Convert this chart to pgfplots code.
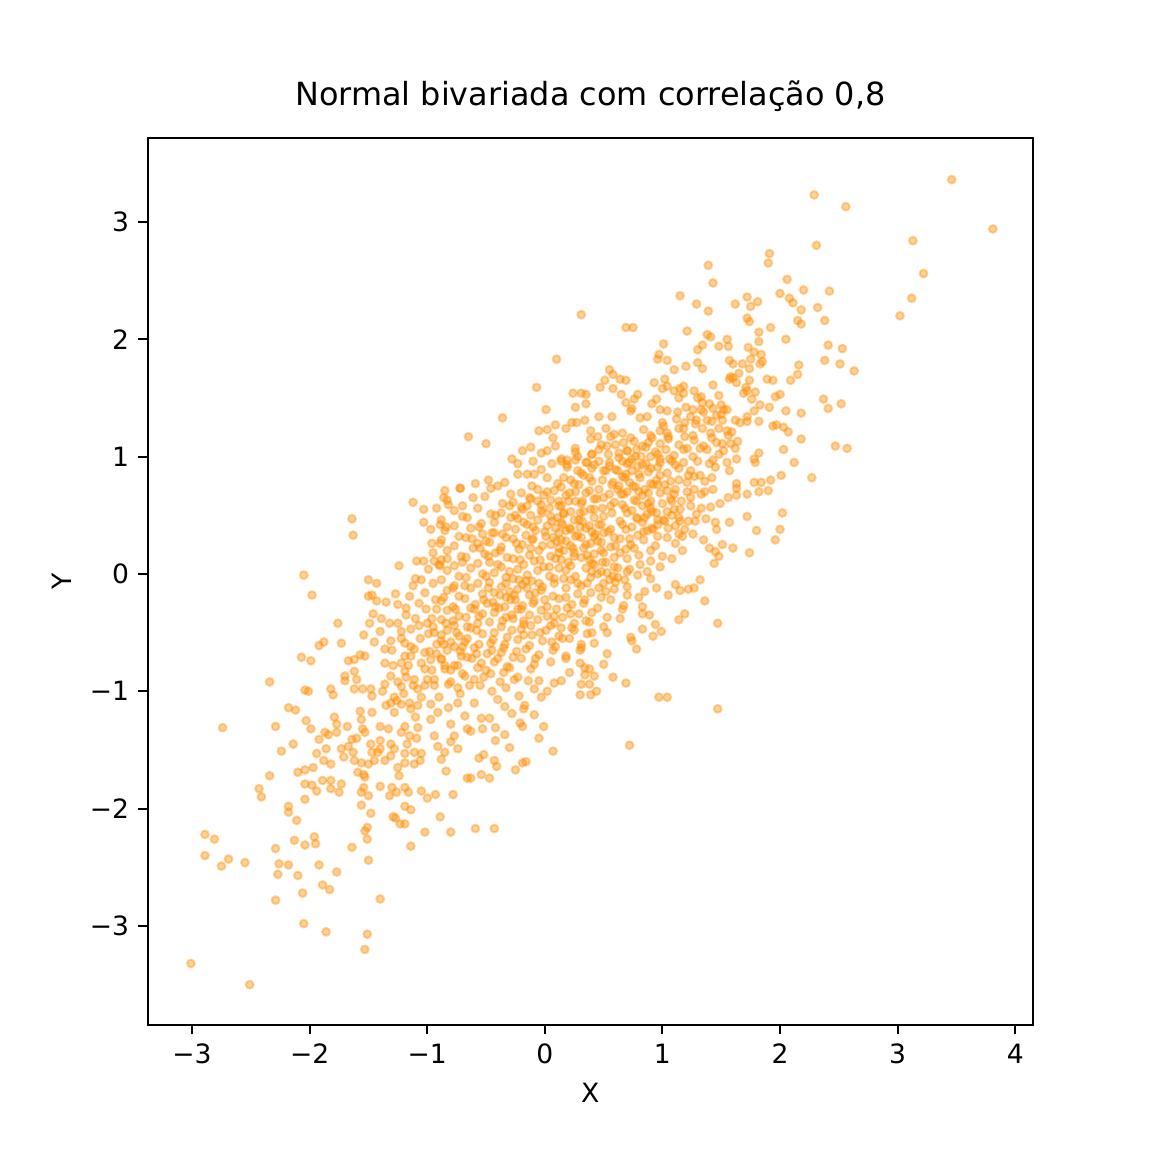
\documentclass[border=0pt]{standalone}
\usepackage{fontspec}
\setmainfont{DejaVu Sans}
\usepackage{pgfplots}
\usepackage{pgfplotstable}
\pgfplotsset{compat=1.18}
\definecolor{dorange}{RGB}{255,140,0}
\pgfplotstableread{
x y
3.46 3.36
2.29 3.23
2.56 3.13
3.81 2.94
3.13 2.84
2.31 2.80
1.91 2.73
1.90 2.65
1.39 2.63
1.43 2.48
3.22 2.56
3.12 2.35
3.02 2.20
2.06 2.51
2.20 2.42
2.42 2.41
2.00 2.39
2.08 2.35
2.11 2.31
1.72 2.36
1.81 2.32
1.75 2.28
1.62 2.30
1.29 2.30
1.15 2.37
1.39 2.24
2.32 2.27
2.18 2.25
2.15 2.16
2.18 2.13
2.38 2.16
1.72 2.18
1.74 2.15
1.92 2.10
1.21 2.07
1.82 2.06
1.38 2.04
1.41 2.02
2.05 2.00
1.82 1.98
1.55 2.00
1.56 1.94
1.48 1.94
1.34 1.95
1.30 1.91
1.73 1.93
1.78 1.89
1.84 1.87
1.85 1.81
1.83 1.79
1.75 1.83
2.41 1.95
2.53 1.92
2.38 1.82
2.51 1.79
2.63 1.73
2.16 1.78
2.15 1.70
2.09 1.65
1.20 1.77
1.30 1.80
1.34 1.75
1.57 1.82
1.60 1.79
1.68 1.79
1.74 1.75
1.65 1.71
1.58 1.68
1.60 1.67
1.57 1.66
1.63 1.63
1.74 1.65
1.89 1.66
1.94 1.65
1.43 1.61
1.71 1.59
1.72 1.56
1.69 1.54
1.79 1.55
1.76 1.49
1.83 1.44
1.78 1.39
1.96 1.51
2.00 1.53
1.91 1.42
2.05 1.39
2.18 1.37
2.37 1.49
2.41 1.41
2.52 1.45
1.82 1.30
1.62 1.31
1.72 1.34
1.72 1.30
1.66 1.29
1.94 1.26
1.97 1.27
2.03 1.25
2.07 1.21
2.18 1.15
2.47 1.09
2.57 1.07
2.03 1.06
2.12 0.95
1.82 1.03
1.78 0.98
1.79 0.95
1.63 0.98
1.51 1.11
1.58 1.11
1.64 1.13
1.62 1.07
1.55 1.22
1.59 1.21
1.48 1.24
1.41 1.20
1.42 1.16
1.52 1.05
1.43 0.97
1.55 0.95
1.45 0.91
1.18 1.60
1.18 1.54
1.27 1.56
1.33 1.51
1.34 1.46
1.26 1.40
1.24 1.34
1.33 1.40
1.43 1.41
1.50 1.44
1.52 1.40
1.46 1.35
1.51 1.31
1.38 1.31
1.29 1.31
1.19 1.29
1.18 1.24
1.19 1.17
1.27 1.14
1.21 1.07
1.32 1.07
1.35 1.09
1.26 1.00
1.18 0.95
-3.01 -3.32
-2.51 -3.50
-2.74 -1.31
-2.29 -1.30
-2.18 -1.14
-2.12 -1.16
-2.03 -1.25
-1.99 -1.32
-2.24 -1.51
-2.14 -1.45
-2.34 -1.72
-2.43 -1.83
-2.41 -1.90
-2.10 -1.69
-2.04 -1.67
-1.97 -1.65
-1.94 -1.53
-1.88 -1.59
-1.82 -1.62
-1.86 -1.49
-1.92 -1.41
-1.87 -1.35
-1.79 -1.22
-1.77 -1.28
-1.77 -1.35
-1.84 -1.37
-2.04 -1.79
-1.98 -1.80
-1.94 -1.85
-1.89 -1.76
-1.82 -1.76
-1.82 -1.83
-1.75 -1.86
-1.73 -1.79
-2.04 -1.92
-2.18 -1.98
-2.18 -2.03
-2.11 -2.10
-2.89 -2.22
-2.81 -2.26
-2.89 -2.40
-2.75 -2.49
-2.69 -2.43
-2.55 -2.46
-2.29 -2.34
-2.13 -2.27
-1.96 -2.24
-1.95 -2.30
-2.04 -2.31
-2.26 -2.47
-2.18 -2.48
-2.27 -2.56
-2.10 -2.57
-1.92 -2.48
-1.77 -2.54
-1.89 -2.65
-1.83 -2.69
-2.06 -2.72
-2.29 -2.78
-2.05 -2.98
-1.86 -3.05
-1.51 -3.07
-1.53 -3.20
-1.40 -2.77
-1.50 -2.44
-1.64 -2.33
-1.51 -2.26
-1.53 -2.19
-1.51 -2.16
-1.48 -2.04
-1.56 -1.97
-1.50 -1.89
-1.56 -1.86
-1.54 -1.82
-1.40 -1.81
-1.29 -2.07
-1.27 -2.08
-1.23 -2.13
-1.19 -2.13
-1.14 -2.32
-1.02 -2.20
-0.80 -2.20
-0.89 -2.07
-1.19 -1.98
-1.14 -2.01
-1.32 -1.89
-1.30 -1.82
-1.26 -1.86
-1.19 -1.82
-1.16 -1.86
-1.05 -1.85
-1.00 -1.91
-0.93 -1.88
-0.78 -1.88
-0.66 -1.74
-1.62 -1.59
-1.56 -1.61
-1.59 -1.69
-1.54 -1.71
-1.53 -1.73
-1.50 -1.62
-1.45 -1.59
-1.42 -1.52
-1.36 -1.59
-1.47 -1.52
-1.64 -1.41
-1.67 -1.47
-1.63 -1.52
-1.73 -1.49
-1.71 -1.56
-1.57 -1.17
-1.56 -1.24
-1.47 -1.18
-1.40 -1.30
-1.53 -1.35
-1.40 -1.42
-1.33 -1.32
-1.40 -1.49
-1.31 -1.10
-1.22 -1.11
-1.28 -1.18
-1.14 -1.15
-1.19 -1.30
-1.22 -1.35
-1.08 -1.31
-1.15 -1.38
-1.09 -1.40
-1.31 -1.45
-1.28 -1.49
-1.17 -1.45
-1.11 -1.52
-1.19 -1.53
-1.05 -1.53
-1.31 -1.55
-1.19 -1.61
-1.11 -1.62
-1.25 -1.65
-1.24 -1.72
-1.06 -1.59
-0.97 -1.11
-0.91 -1.18
-0.82 -1.14
-0.74 -1.10
-0.68 -1.21
-0.80 -1.28
-0.97 -1.24
-0.94 -1.38
-0.91 -1.47
-0.85 -1.52
-0.80 -1.43
-0.74 -1.49
-0.77 -1.38
-0.84 -1.68
-0.88 -1.58
-0.66 -1.32
-1.64 0.47
-1.63 0.33
-2.05 -0.01
-1.98 -0.18
-1.76 -0.42
-1.92 -0.61
-1.88 -0.58
-1.73 -0.59
-2.07 -0.71
-1.99 -0.74
-2.34 -0.92
-2.04 -0.99
-2.01 -1.00
-1.82 -0.98
-1.80 -1.03
-1.70 -0.87
-1.70 -0.91
-1.62 -0.83
-1.60 -0.90
-1.67 -0.74
-1.62 -0.73
-1.57 -0.69
-1.53 -0.70
-1.54 -0.52
-1.62 -0.98
-1.55 -0.98
-1.48 -0.98
-1.47 -1.04
-1.50 -0.05
-1.43 -0.08
-1.50 -0.19
-1.47 -0.18
-1.43 -0.23
-1.35 -0.24
-1.24 0.07
-1.12 0.61
-1.03 0.55
-1.03 0.44
-0.92 0.56
-0.86 0.65
-0.82 0.59
-0.72 0.73
-0.97 0.38
-0.89 0.42
-0.84 0.40
-0.96 0.26
-0.89 0.26
-1.09 0.11
-1.03 0.11
-0.94 0.11
-0.89 0.07
-0.99 0.04
-0.90 0.08
-0.83 0.13
-1.46 -0.34
-1.49 -0.42
-1.39 -0.38
-1.40 -0.49
-1.45 -0.58
-1.36 -0.64
-1.27 -0.17
-1.25 -0.26
-1.18 -0.35
-1.15 -0.19
-1.10 -0.04
-1.05 -0.05
-1.12 -0.10
-1.02 -0.16
-1.07 -0.25
-1.01 -0.30
-1.18 -0.29
-1.32 -0.42
-1.25 -0.42
-1.22 -0.49
-1.31 -0.57
-1.19 -0.59
-1.14 -0.47
-1.07 -0.44
-0.99 -0.51
-1.11 -0.64
-1.02 -0.67
-1.19 -0.70
-1.36 -0.76
-1.29 -0.78
-1.22 -0.76
-1.14 -0.70
-1.05 -0.76
-0.97 -0.73
-1.31 -0.87
-1.19 -0.83
-1.11 -0.90
-1.02 -0.81
-0.94 -0.90
-0.85 -0.81
-1.36 -0.94
-1.22 -0.96
-1.08 -0.98
-0.94 -0.95
-0.82 -0.94
-0.74 -0.97
-0.95 -0.08
-0.93 -0.22
-0.96 -0.38
-0.92 -0.60
-0.95 0.18
1.36 -0.23
1.47 -0.42
1.47 -1.15
1.19 -0.34
1.14 -0.39
0.97 -1.05
1.04 -1.05
0.72 -1.46
0.83 -0.28
0.83 -0.34
0.89 -0.35
0.94 -0.43
0.99 -0.49
0.92 -0.53
0.83 -0.47
0.74 -0.57
0.78 -0.64
0.69 -0.93
0.58 -0.88
0.50 -0.77
0.31 -0.94
0.30 -1.03
0.38 -0.94
0.39 -1.03
0.44 -1.00
0.42 -0.87
0.38 -0.81
0.34 -0.80
0.34 -0.86
0.21 -0.84
0.30 -0.76
0.07 -1.51
-0.05 -1.40
-0.01 -1.30
-0.09 -1.20
-0.19 -1.30
-0.21 -1.27
-0.16 -1.60
-0.19 -1.61
-0.25 -1.67
-0.30 -1.48
-0.34 -1.37
-0.42 -1.31
-0.42 -1.42
-0.43 -1.59
-0.41 -1.64
-0.52 -1.54
-0.56 -1.57
-0.54 -1.71
-0.47 -1.74
-0.59 -2.17
-0.43 -2.17
-0.63 -1.74
-0.54 -1.23
-0.47 -1.23
-0.53 -1.32
-0.63 -1.34
-0.28 -1.19
-0.34 -1.13
-0.18 -1.15
-0.17 -1.12
-0.09 -0.98
-0.14 -0.91
-0.05 -0.91
-0.26 -0.90
-0.22 -1.04
-0.40 -1.07
-0.60 -1.10
0.08 -0.93
0.14 -0.91
0.02 -1.00
-0.03 -1.05
-0.55 -0.95
-0.45 -1.00
-0.33 -0.97
0.85 -0.15
0.95 -0.12
1.05 -0.18
1.15 -0.14
0.80 -0.20
0.31 2.21
0.69 2.10
0.75 2.10
1.01 1.96
0.97 1.87
0.96 1.83
1.04 1.82
1.10 1.74
0.10 1.83
0.55 1.74
0.58 1.70
0.51 1.65
0.47 1.59
0.58 1.58
0.64 1.66
0.69 1.65
-0.07 1.59
0.93 1.63
1.02 1.66
1.00 1.58
1.04 1.60
1.10 1.56
1.15 1.58
1.14 1.50
0.65 1.53
0.79 1.53
0.76 1.49
0.69 1.46
0.74 1.41
0.73 1.39
0.81 1.33
0.87 1.34
0.95 1.49
0.91 1.45
0.98 1.40
1.04 1.39
1.13 1.38
1.00 1.29
1.01 1.26
0.24 1.54
0.31 1.54
0.35 1.53
0.35 1.45
0.26 1.42
0.01 1.40
-0.36 1.33
-0.65 1.17
-0.50 1.11
0.46 1.34
0.57 1.34
0.09 1.27
0.18 1.24
0.23 1.29
0.27 1.29
0.34 1.31
-0.05 1.22
0.02 1.23
0.07 1.16
0.09 1.09
-0.12 1.08
-0.19 1.05
-0.03 1.03
0.02 1.05
-0.28 0.98
-0.23 0.94
-0.10 0.96
-0.23 0.85
-0.15 0.85
-0.09 0.85
-0.03 0.89
0.06 0.94
0.14 0.96
0.19 0.97
0.26 0.97
0.26 1.04
-0.72 0.73
-0.59 0.77
-0.48 0.80
-0.40 0.75
-0.34 0.78
2.27 0.82
2.01 0.84
1.92 0.80
1.84 0.78
1.78 0.78
1.90 0.71
1.82 0.70
1.72 0.68
1.63 0.77
1.63 0.73
1.63 0.67
1.56 0.65
2.02 0.52
2.00 0.38
1.96 0.29
1.80 0.37
1.72 0.49
1.74 0.18
1.57 0.44
1.60 0.22
1.51 0.25
1.49 0.60
1.41 0.57
1.33 0.56
1.37 0.47
1.45 0.44
1.46 0.38
1.35 0.29
1.40 0.22
1.45 0.19
1.48 0.15
1.44 0.09
1.26 0.34
1.32 -0.05
1.27 -0.12
1.22 -0.13
1.17 0.20
1.17 0.32
1.29 0.51
1.33 0.68
1.24 0.65
1.21 0.70
1.27 0.72
1.36 0.79
1.42 0.82
1.43 0.72
1.57 0.88
1.24 0.88
1.27 0.83
1.21 0.78
1.22 0.45
1.28 0.45
1.15 0.45
1.19 0.38
0.39 1.22
0.45 1.17
0.52 1.24
0.59 1.19
0.66 1.20
0.73 1.16
0.84 1.23
0.90 1.18
0.98 1.22
1.05 1.17
1.14 1.24
0.39 1.15
0.48 1.10
0.56 1.17
0.67 1.12
0.76 1.13
0.83 1.09
0.91 1.16
0.98 1.11
1.05 1.15
1.14 1.10
0.26 1.07
0.40 1.02
0.53 1.09
0.63 1.03
0.70 1.05
0.77 1.00
0.86 1.08
0.96 1.02
1.03 1.06
1.10 1.01
0.14 0.98
0.19 0.93
0.28 1.00
0.36 0.95
0.46 0.96
0.55 0.92
0.63 0.99
0.70 0.94
0.74 0.98
0.83 0.93
0.90 1.00
0.98 0.95
1.08 0.96
0.19 0.91
0.31 0.86
0.42 0.93
0.52 0.88
0.60 0.89
0.69 0.85
0.79 0.92
0.88 0.87
0.96 0.91
1.04 0.86
1.11 0.93
0.16 0.82
0.25 0.77
0.33 0.84
0.40 0.79
0.49 0.80
0.57 0.76
0.66 0.83
0.72 0.78
0.81 0.82
0.90 0.77
0.98 0.84
1.07 0.79
1.14 0.80
0.14 0.74
0.21 0.69
0.29 0.76
0.38 0.71
0.46 0.72
0.55 0.68
0.63 0.75
0.70 0.70
0.77 0.74
0.88 0.69
0.96 0.76
1.04 0.71
1.11 0.72
0.18 0.67
0.26 0.62
0.35 0.69
0.42 0.64
0.50 0.65
0.59 0.61
0.67 0.68
0.76 0.63
0.83 0.67
0.90 0.62
0.98 0.69
1.07 0.64
0.14 0.58
0.22 0.53
0.31 0.60
0.39 0.55
0.49 0.56
0.57 0.52
0.66 0.59
0.74 0.54
0.83 0.58
0.91 0.53
1.00 0.60
1.10 0.55
0.16 0.51
0.25 0.46
0.33 0.53
0.42 0.48
0.50 0.49
0.70 0.52
0.79 0.47
0.87 0.51
0.96 0.46
1.04 0.53
1.14 0.48
0.14 0.44
0.21 0.39
0.29 0.46
0.38 0.41
0.46 0.42
0.56 0.38
0.64 0.45
0.74 0.40
0.83 0.44
0.91 0.39
1.01 0.46
1.11 0.41
0.18 0.37
0.26 0.32
0.35 0.39
0.43 0.34
0.50 0.35
0.59 0.31
0.69 0.38
0.79 0.33
0.87 0.37
0.96 0.32
1.05 0.39
1.14 0.34
0.14 0.29
0.22 0.24
0.31 0.31
0.39 0.26
0.48 0.27
0.56 0.23
0.64 0.30
0.73 0.25
0.84 0.29
0.94 0.24
1.04 0.31
1.11 0.26
0.16 0.20
0.25 0.15
0.33 0.22
0.42 0.17
0.50 0.18
0.59 0.14
0.69 0.21
0.80 0.16
0.90 0.20
1.00 0.15
0.14 0.12
0.22 0.07
0.31 0.14
0.40 0.09
0.49 0.10
0.59 0.06
0.70 0.13
0.81 0.08
0.90 0.11
0.98 0.06
1.08 0.13
0.18 0.03
0.26 -0.02
0.35 0.05
0.45 0.00
0.53 0.01
0.62 -0.03
0.72 0.04
0.79 -0.01
0.87 0.02
0.22 -0.05
0.31 -0.10
0.39 -0.03
0.50 -0.08
0.60 -0.07
0.70 -0.11
0.90 -0.04
1.11 -0.09
-0.11 0.75
0.02 0.82
0.11 0.77
-0.85 0.71
-0.51 0.66
-0.46 0.73
-0.29 0.68
-0.20 0.69
-0.13 0.65
-0.06 0.72
-0.01 0.67
0.08 0.71
-0.83 0.63
-0.70 0.58
-0.61 0.65
-0.36 0.60
-0.27 0.61
-0.20 0.57
-0.12 0.64
-0.03 0.59
0.05 0.63
0.12 0.58
-0.77 0.54
-0.70 0.49
-0.57 0.56
-0.46 0.51
-0.37 0.52
-0.29 0.48
-0.19 0.55
-0.12 0.50
-0.03 0.54
0.05 0.49
-0.88 0.46
-0.77 0.41
-0.66 0.48
-0.54 0.43
-0.43 0.44
-0.32 0.40
-0.23 0.47
-0.15 0.42
-0.06 0.46
0.02 0.41
0.11 0.48
-0.85 0.37
-0.73 0.32
-0.63 0.39
-0.53 0.34
-0.43 0.35
-0.33 0.31
-0.25 0.38
-0.16 0.33
-0.08 0.37
0.01 0.32
0.09 0.39
-0.88 0.29
-0.77 0.24
-0.67 0.31
-0.57 0.26
-0.47 0.27
-0.37 0.23
-0.27 0.30
-0.19 0.25
-0.11 0.29
-0.02 0.24
0.07 0.31
-0.83 0.20
-0.71 0.15
-0.61 0.22
-0.51 0.17
-0.42 0.18
-0.32 0.14
-0.22 0.21
-0.13 0.16
-0.05 0.20
0.05 0.15
0.12 0.22
-0.88 0.12
-0.77 0.07
-0.67 0.14
-0.57 0.09
-0.47 0.10
-0.37 0.06
-0.27 0.13
-0.18 0.08
-0.09 0.11
-0.01 0.06
0.09 0.13
-0.83 0.03
-0.73 -0.02
-0.63 0.05
-0.53 0.00
-0.43 0.01
-0.33 -0.03
-0.23 0.04
-0.15 -0.01
-0.06 0.03
0.04 -0.02
0.12 0.05
-0.88 -0.05
-0.77 -0.10
-0.67 -0.03
-0.57 -0.08
-0.47 -0.07
-0.37 -0.11
-0.27 -0.04
-0.19 -0.09
-0.11 -0.06
-0.02 -0.11
0.08 -0.04
-0.83 -0.14
-0.73 -0.19
-0.63 -0.12
-0.53 -0.17
-0.43 -0.16
-0.33 -0.20
-0.23 -0.13
-0.13 -0.18
-0.03 -0.14
0.07 -0.19
0.18 -0.12
0.28 -0.17
0.39 -0.16
0.48 -0.20
0.59 -0.13
0.70 -0.18
-0.88 -0.23
-0.78 -0.28
-0.68 -0.21
-0.59 -0.26
-0.49 -0.25
-0.39 -0.29
-0.29 -0.22
-0.19 -0.27
-0.09 -0.23
0.02 -0.28
0.12 -0.21
0.23 -0.26
0.33 -0.25
0.45 -0.29
0.56 -0.22
0.67 -0.27
-0.83 -0.31
-0.73 -0.36
-0.63 -0.29
-0.53 -0.34
-0.43 -0.33
-0.33 -0.37
-0.23 -0.30
-0.13 -0.35
-0.03 -0.31
0.08 -0.36
0.19 -0.29
0.29 -0.34
0.40 -0.33
0.53 -0.37
0.66 -0.30
-0.88 -0.39
-0.77 -0.44
-0.67 -0.37
-0.57 -0.42
-0.47 -0.41
-0.37 -0.45
-0.27 -0.38
-0.18 -0.43
-0.06 -0.39
0.05 -0.44
0.15 -0.37
0.25 -0.42
0.38 -0.41
0.50 -0.45
0.64 -0.38
-0.83 -0.48
-0.73 -0.53
-0.63 -0.46
-0.53 -0.51
-0.43 -0.50
-0.32 -0.54
-0.20 -0.47
-0.11 -0.52
0.01 -0.48
0.12 -0.53
0.23 -0.46
0.36 -0.51
0.53 -0.50
0.73 -0.54
-0.88 -0.57
-0.77 -0.62
-0.66 -0.55
-0.56 -0.60
-0.46 -0.59
-0.35 -0.63
-0.23 -0.56
-0.13 -0.61
-0.02 -0.57
0.09 -0.62
0.21 -0.55
0.31 -0.60
0.42 -0.59
-0.83 -0.65
-0.71 -0.70
-0.60 -0.63
-0.49 -0.68
-0.37 -0.67
-0.27 -0.71
-0.16 -0.64
-0.05 -0.69
0.07 -0.65
0.18 -0.70
0.31 -0.63
0.53 -0.68
-0.88 -0.73
-0.77 -0.78
-0.66 -0.71
-0.54 -0.76
-0.43 -0.75
-0.32 -0.79
-0.20 -0.72
-0.09 -0.77
-0.80 -0.82
-0.68 -0.87
-0.57 -0.80
-0.46 -0.85
-0.35 -0.84
-0.23 -0.88
-0.12 -0.81
-0.30 -0.15
-0.25 -0.22
-0.38 -0.18
-0.20 -0.30
-0.42 -0.28
-0.33 -0.08
-0.15 -0.12
-0.48 -0.12
-0.28 -0.35
-0.10 -0.25
-0.36 -0.40
-0.22 -0.05
-0.52 -0.22
-0.05 -0.08
-0.18 -0.40
0.28 0.33
0.35 0.25
0.22 0.38
0.40 0.36
0.18 0.28
0.32 0.45
0.45 0.28
0.25 0.18
0.38 0.12
0.12 0.35
0.48 0.42
0.30 0.52
0.05 0.25
0.20 0.10
0.42 0.55
0.68 0.82
0.75 0.75
0.62 0.88
0.80 0.85
0.72 0.95
0.58 0.78
0.85 0.72
0.65 0.68
0.78 0.62
0.90 0.90
0.55 0.95
0.95 0.80
0.70 1.05
0.82 1.00
-0.80 -0.58
-0.72 -0.66
-0.88 -0.52
-0.75 -0.50
-0.68 -0.58
-0.92 -0.68
-0.62 -0.72
-0.85 -0.78
-0.70 -0.85
-0.58 -0.48
-0.95 -0.45
-0.78 -0.40
-1.20 -1.02
-1.12 -0.95
-1.28 -1.05
-1.15 -1.10
-1.05 -1.05
-1.25 -0.92
-1.35 -1.12
-1.00 -0.90
-1.10 -1.22
-1.38 -1.00
-0.02 0.52
0.06 0.45
-0.10 0.40
0.12 0.62
-0.15 0.58
0.02 0.70
-0.25 0.50
0.15 0.42
0.15 -0.55
0.25 -0.48
0.08 -0.42
0.30 -0.65
0.18 -0.72
0.40 -0.50
0.05 -0.75
0.35 -0.40
0.95 0.52
1.02 0.45
0.88 0.60
1.08 0.62
0.92 0.38
1.15 0.55
0.85 0.48
0.48 0.02
0.55 -0.05
0.42 0.08
0.62 0.05
0.52 -0.15
0.68 -0.05
0.36 -0.08
-0.55 0.22
-0.48 0.15
-0.62 0.30
-0.45 0.35
-0.70 0.10
-0.38 0.20
1.40 1.45
1.35 1.38
1.48 1.52
1.30 1.50
1.55 1.40
-1.60 -1.40
-1.55 -1.32
-1.68 -1.30
-1.48 -1.45
0.28 0.88
0.35 0.95
0.22 0.80
0.40 1.02
-0.50 -0.82
-0.40 -0.72
-0.60 -0.90
-0.30 -0.80
-0.45 -0.65
-1.26 -1.08
-1.18 -0.88
-1.08 -1.12
-1.02 -0.95
-0.96 -0.82
-0.90 -1.05
-1.14 -0.62
-1.06 -0.55
-0.98 -0.66
-0.88 -0.72
-0.80 -0.92
-0.74 -0.78
-0.70 -0.62
-0.66 -0.45
-0.76 -0.30
-0.84 -0.42
-0.92 -0.30
-1.00 -0.42
-1.10 -0.38
-0.64 -0.95
-0.72 -1.02
-1.22 -0.55
-1.30 -0.65
-1.16 -0.78
-0.86 -0.60
-0.94 -0.50
-0.60 -0.30
-0.68 -0.10
-0.78 -0.12
-0.86 -0.20
-0.58 -0.68
-0.52 -0.88
-0.44 -0.56
-0.38 -0.92
-0.34 -0.60
-0.28 -0.48
-0.24 -0.66
-0.18 -0.52
-0.12 -0.44
-0.08 -0.72
-0.04 -0.50
0.02 -0.36
0.06 -0.58
0.10 -0.30
0.14 -0.46
0.18 -0.20
-0.56 -0.36
-0.50 -0.02
-0.44 -0.24
-0.40 0.08
-0.34 -0.28
-0.30 0.02
-0.26 -0.18
-0.21 0.12
-0.16 -0.06
-0.12 0.22
-0.08 -0.16
-0.04 0.12
0.00 -0.22
0.04 0.06
0.08 -0.08
0.12 0.18
0.16 -0.04
-0.56 0.40
-0.50 0.28
-0.42 0.50
-0.36 0.34
-0.30 0.58
-0.24 0.26
-0.18 0.44
-0.10 0.30
-0.06 0.62
0.00 0.36
0.04 0.56
0.10 0.28
0.16 0.52
0.20 0.62
0.22 -0.34
0.28 -0.08
0.34 -0.22
0.40 0.02
0.46 -0.12
0.52 0.10
0.58 -0.02
0.64 0.18
0.70 0.02
0.76 0.22
0.24 0.22
0.30 0.40
0.36 0.16
0.42 0.32
0.48 0.20
0.54 0.36
0.60 0.24
0.66 0.42
0.72 0.30
0.78 0.48
0.84 0.36
0.90 0.56
0.96 0.42
0.26 0.70
0.32 0.62
0.38 0.82
0.44 0.64
0.50 0.88
0.56 0.58
0.62 0.72
0.68 0.56
0.74 0.88
0.80 0.70
0.86 0.94
0.92 0.76
0.98 0.98
0.54 1.02
0.60 1.10
0.66 0.96
0.78 1.06
0.88 1.12
0.94 1.04
0.46 1.06
0.40 0.90
1.02 0.76
1.06 0.98
1.10 0.68
1.14 0.90
1.18 1.06
1.22 0.84
1.26 1.18
1.30 0.96
1.34 1.24
1.38 1.06
1.42 1.30
1.46 1.12
1.50 1.36
1.04 1.20
1.12 1.32
1.20 1.42
1.28 1.28
1.08 0.50
1.16 0.62
1.24 0.58
1.32 0.84
1.40 0.94
1.48 1.02
1.56 1.18
1.36 0.70
}\scatterdata
\begin{document}
\fontsize{10}{12}\selectfont
\begin{tikzpicture}
\begin{axis}[
  at={(0,0)}, anchor=south west,
  scale only axis, width=333.2pt, height=333.9pt,
  xmin=-3.377, xmax=4.151, ymin=-3.844, ymax=3.716,
  axis line style={line width=0.8pt, black},
  tick pos=left, tick align=outside, major tick length=3.5pt,
  every tick/.style={black, line width=0.8pt},
  xtick={-3,-2,-1,0,1,2,3,4},
  xticklabels={−3,−2,−1,0,1,2,3,4},
  ytick={-3,-2,-1,0,1,2,3},
  yticklabels={−3,−2,−1,0,1,2,3},
  ticklabel style={font=\fontsize{10}{12}\selectfont},
  title={Normal bivariada com correlação 0,8},
  title style={at={(axis description cs:0.5,1)}, anchor=base, yshift=6pt, font=\fontsize{12}{14}\selectfont},
  xlabel={X}, ylabel={Y},
  xlabel style={at={(axis description cs:0.5,-0.0869)}, anchor=base, font=\fontsize{10}{12}\selectfont},
  ylabel style={at={(axis description cs:-0.0858,0.5)}, anchor=base, rotate=0, font=\fontsize{10}{12}\selectfont},
  clip=true,
]
\addplot[only marks, mark=*, mark size=1.45pt,
  mark options={draw=dorange, fill=dorange, line width=0.8pt, opacity=0.38}]
  table[x=x, y=y] {\scatterdata};
\end{axis}
\pgfresetboundingbox
\path[use as bounding box] (-55.6pt,-47.8pt) rectangle (378.0pt,385.8pt);
\end{tikzpicture}
\end{document}
